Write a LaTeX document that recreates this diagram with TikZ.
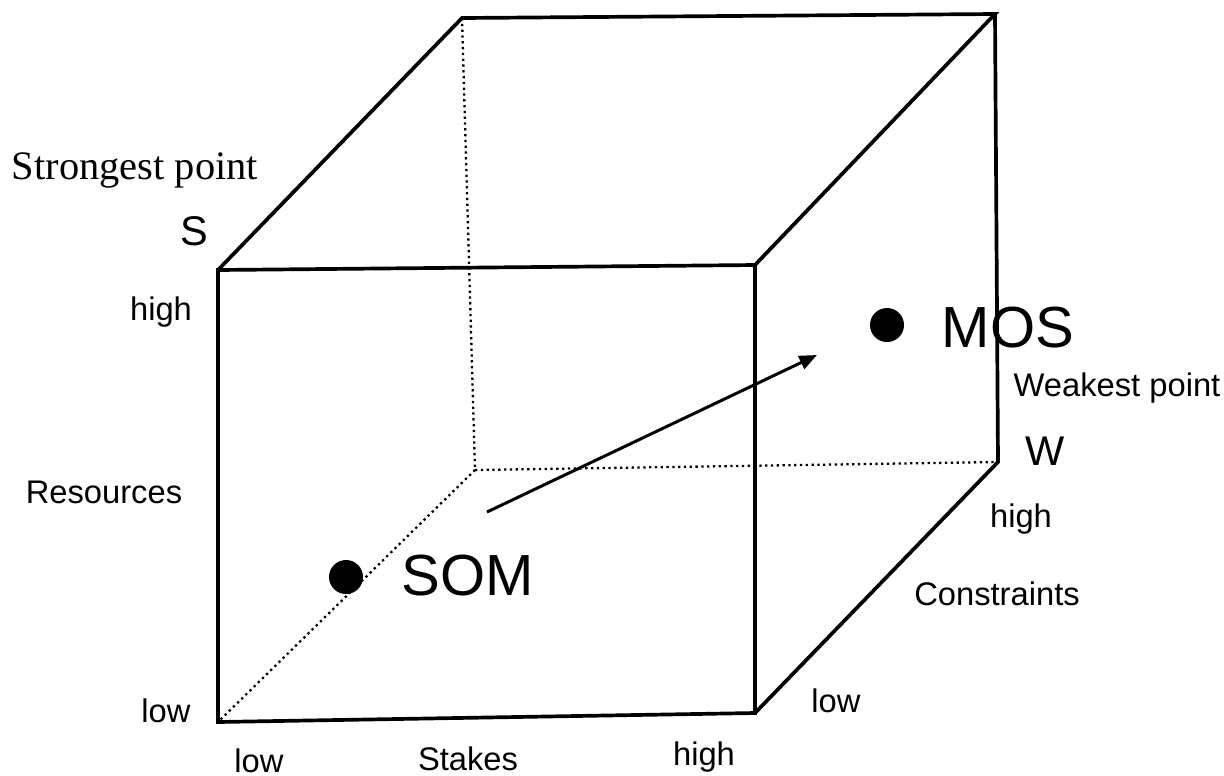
\documentclass[tikz,border=0pt]{standalone}
\usepackage{fontspec}
\setmainfont{Liberation Sans}
\newfontfamily\labelserif{Liberation Serif}
\usetikzlibrary{arrows.meta}

\begin{document}
\begin{tikzpicture}[x=0.01cm, y=-0.01cm, >={Triangle[length=5pt, width=4pt]}, line width=1.05pt,
    every node/.style={inner sep=0pt},
    hidden/.style={line width=0.65pt, dash pattern=on 0.65pt off 1pt},
    axlbl/.style={anchor=base, font=\fontsize{9.3}{11}\selectfont},
    cornerlbl/.style={anchor=base, font=\fontsize{11.8}{14}\selectfont},
    ptlbl/.style={anchor=base west, font=\fontsize{16.5}{19}\selectfont},
    dot/.style={circle, fill=black, minimum size=0.34cm}]
    % 0. 画布范围
    \useasboundingbox (0,0) rectangle (1224,775);

    % 1. 立方体顶点
    \coordinate (fTL) at (218,270); \coordinate (fTR) at (755,265);
    \coordinate (fBR) at (755,713); \coordinate (fBL) at (218,722);
    \coordinate (bTL) at (462,18);  \coordinate (bTR) at (995,14);
    \coordinate (bBR) at (998,462); \coordinate (bBL) at (475,470);

    % 2. 隐藏棱 (点线)
    \draw[hidden] (bTL) -- (bBL);
    \draw[hidden] (bBL) -- (bBR);
    \draw[hidden] (bBL) -- (fBL);

    % 3. 可见棱
    \draw[line join=miter] (fTL) -- (fTR) -- (fBR) -- (fBL) -- cycle;
    \draw[line join=miter] (fTL) -- (bTL) -- (bTR) -- (fTR);
    \draw[line join=miter] (bTR) -- (bBR) -- (fBR);

    % 4. 两个点与箭头
    \node[dot] (som) at (346,577) {};
    \node[dot] (mos) at (887,325) {};
    \node[ptlbl] (somtxt) at (400,595) {SOM};
    \node[ptlbl] (mostxt) at (940,347) {MOS};
    \coordinate (arrS) at (487,512);
    \coordinate (arrE) at (817,355);
    \draw[->, line width=0.85pt] (arrS) -- (arrE);

    % 5. 标签
    \node[anchor=base, font=\labelserif\fontsize{11.5}{13}\selectfont] (strong) at (135,179) {Strongest point};
    \node[cornerlbl] (S) at (194,245) {S};
    \node[cornerlbl] (W) at (1045,465) {W};
    \node[axlbl] (weak) at (1117,396) {Weakest point};
    \node[axlbl] (resHigh) at (161,320) {high};
    \node[axlbl] (res) at (104,503) {Resources};
    \node[axlbl] (resLow) at (166,722) {low};
    \node[axlbl] (stkLow) at (259,772) {low};
    \node[axlbl] (stk) at (468,770) {Stakes};
    \node[axlbl] (stkHigh) at (704,765) {high};
    \node[axlbl] (conLow) at (836,712) {low};
    \node[axlbl] (con) at (997,605) {Constraints};
    \node[axlbl] (conHigh) at (1021,527) {high};
\end{tikzpicture}
\end{document}
